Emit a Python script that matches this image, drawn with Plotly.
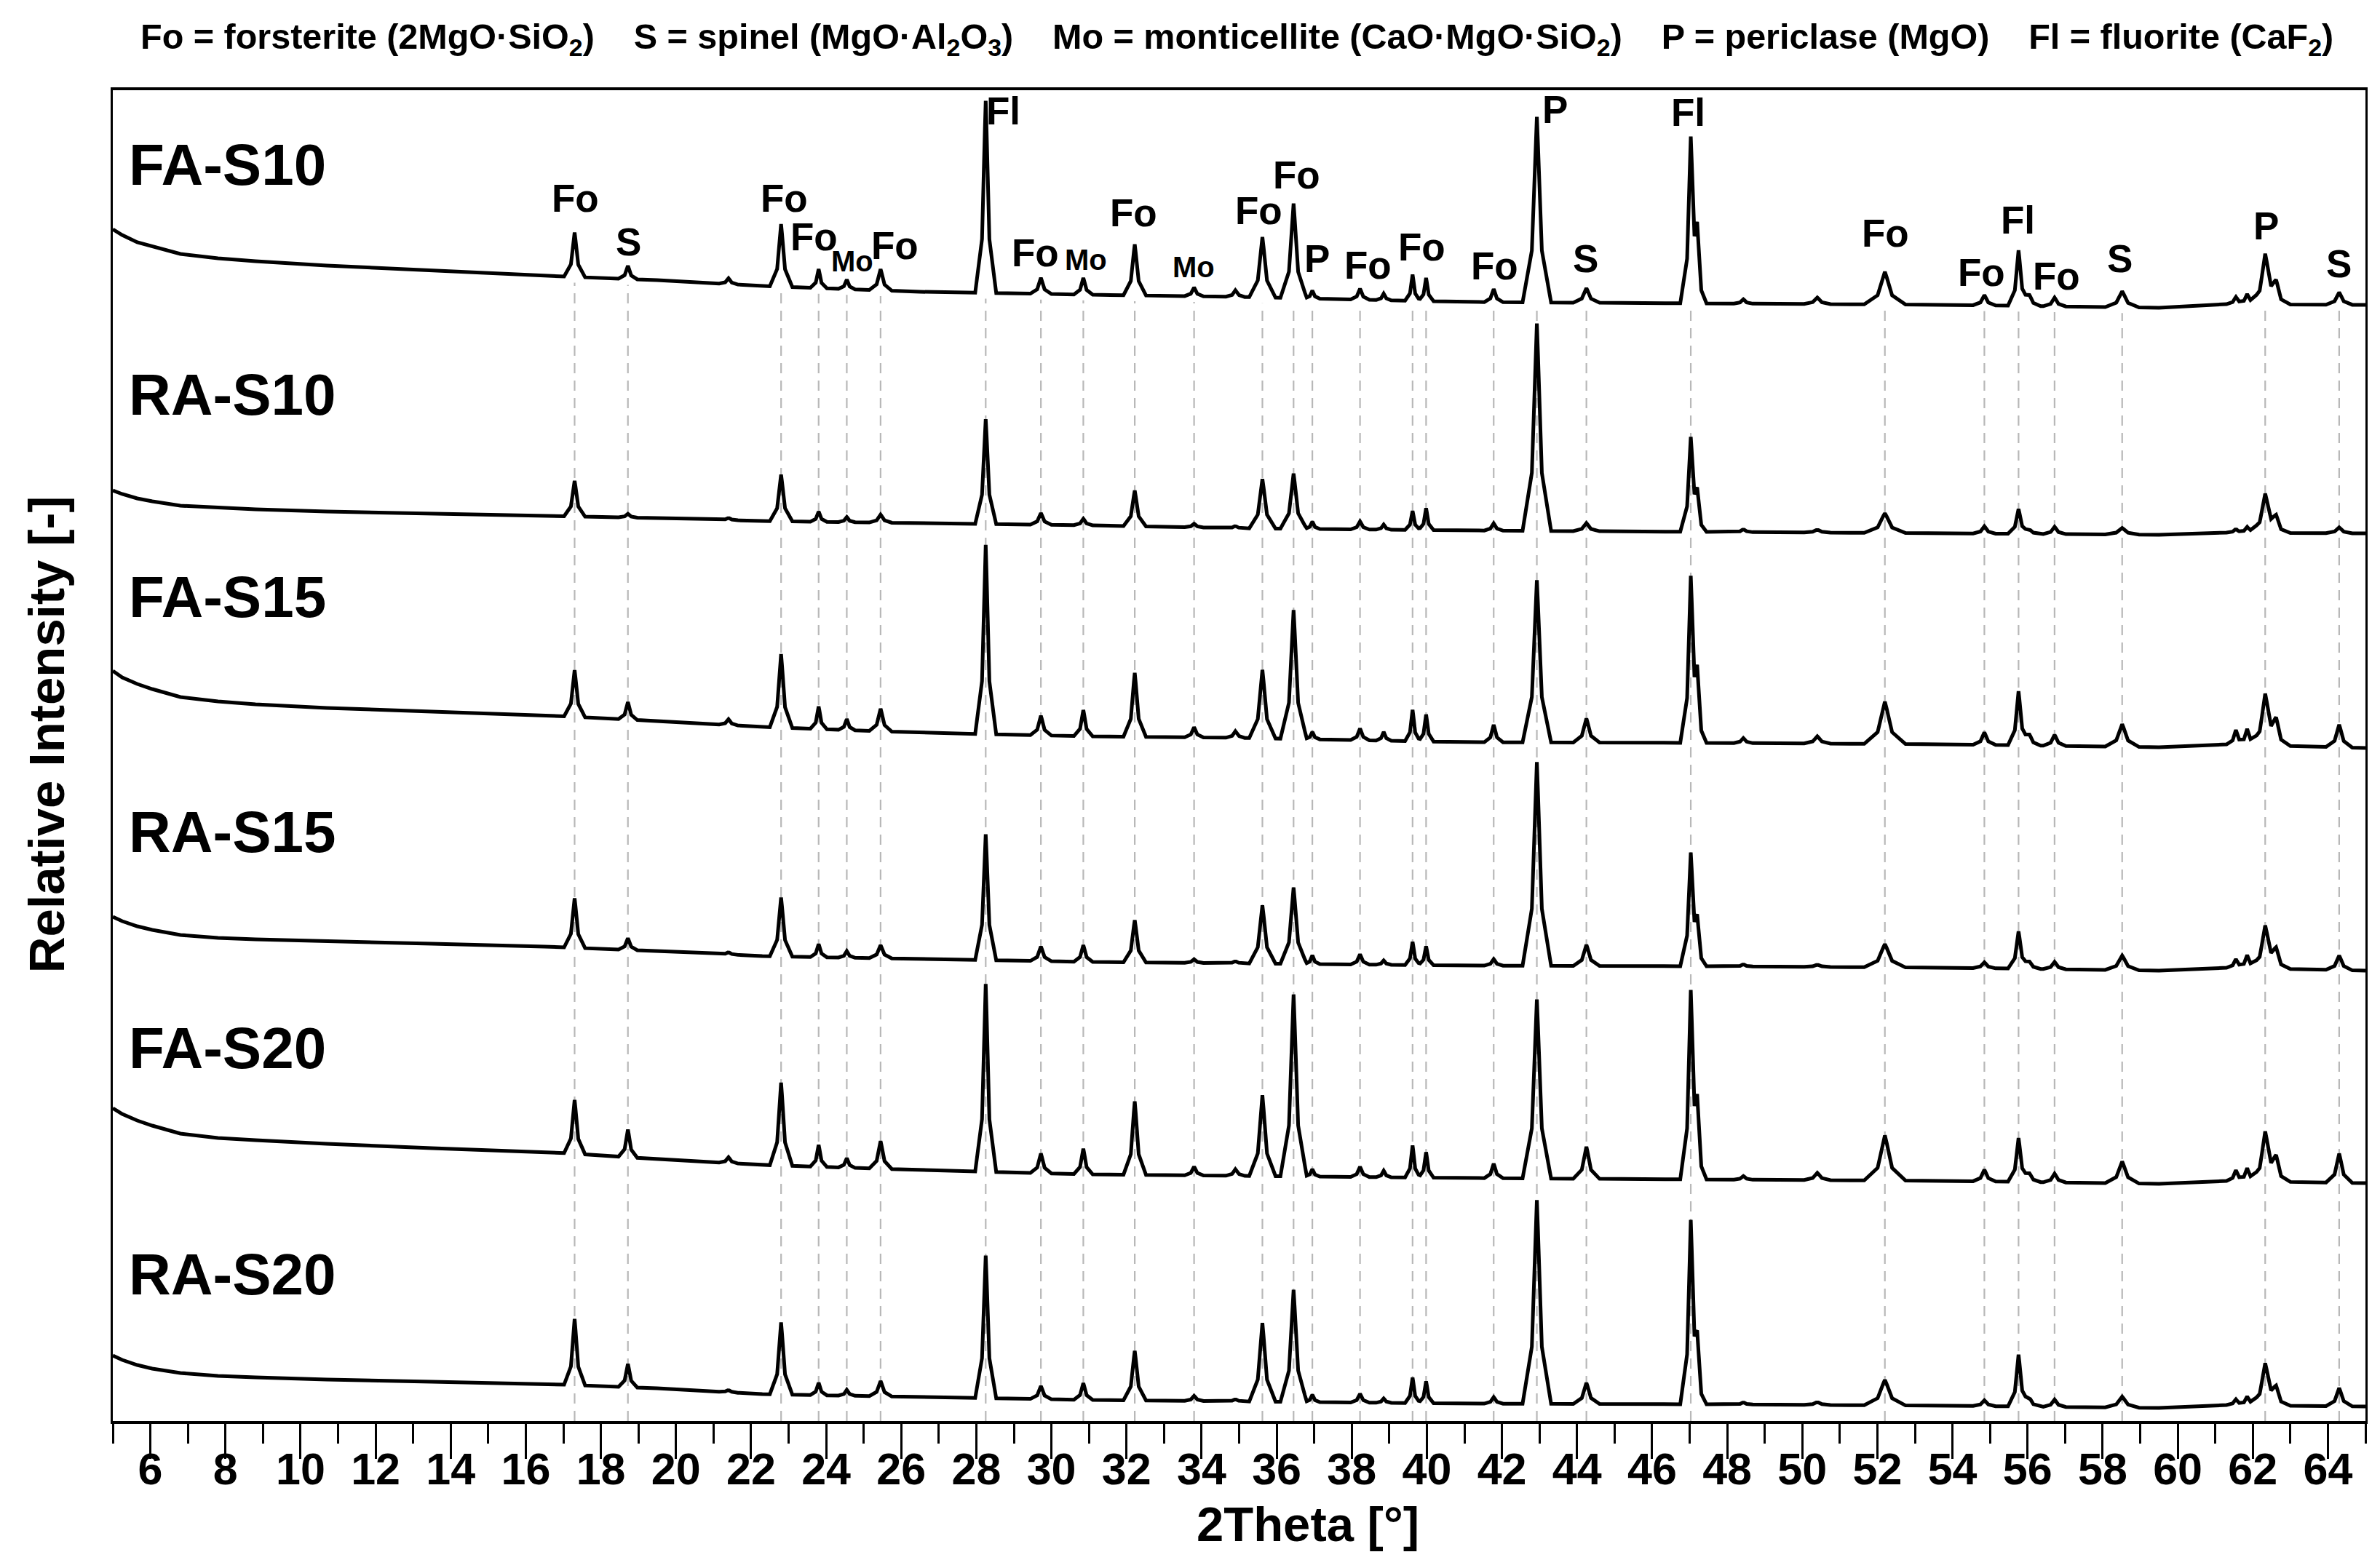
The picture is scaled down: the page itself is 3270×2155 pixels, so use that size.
import numpy as np
import plotly.graph_objects as go

# ---------------- data ----------------
samples = ["FA-S10", "RA-S10", "FA-S15", "RA-S15", "FA-S20", "RA-S20"]

# background anchor points (2theta) and background intensity per sample
bg_x = [5.0, 5.25, 5.65, 6.05, 6.8, 7.8, 8.8, 10.7, 13.5, 16.5, 19.5, 22.3,
        26.5, 31.0, 35.0, 41.0, 47.5, 54.0, 59.5, 61.3, 65.0]
bg_fa_s10 = [104, 96, 86, 80, 70, 64, 60, 54, 47, 40, 34, 26, 18, 14, 11, 4, 2, 0, -4, 1, 0]
bg_ra_s10 = [59, 54, 48, 44, 38, 35, 33, 30, 27, 24, 21, 17, 14, 11, 7, 4, 2, 0, -2, 1, 0]
bg_fa_s15 = [106, 97, 88, 81, 70, 64, 60, 55, 50, 45, 37, 29, 21, 16, 14, 8, 7, 5, 1, 5, 0]
bg_ra_s15 = [74, 68, 61, 56, 49, 45, 43, 41, 37, 33, 27, 20, 16, 12, 10, 7, 6, 4, 0, 4, 0]
bg_fa_s20 = [103, 95, 86, 79, 68, 62, 59, 54, 48, 43, 33, 25, 18, 12, 10, 7, 5, 3, -1, 3, 0]
bg_ra_s20 = [70, 64, 57, 52, 46, 42, 40, 37, 34, 31, 25, 17, 13, 9, 7, 4, 3, 1, -2, 2, 0]

# reflections: position (2theta), half base width (deg)
peak_pos = [17.30, 18.72, 21.40, 22.80, 23.80, 24.55, 25.45, 28.25, 29.72, 30.85,
            32.22, 33.80, 34.90, 35.62, 36.45, 36.95, 38.22, 38.85, 39.62, 39.98,
            41.78, 42.93, 44.25, 47.03, 47.20, 48.43, 50.40, 52.20, 54.85, 55.76,
            56.05, 56.72, 58.52, 61.55, 61.85, 62.33, 62.62, 64.30]
peak_hw = [0.28, 0.25, 0.25, 0.30, 0.22, 0.22, 0.30, 0.28, 0.28, 0.25,
           0.30, 0.25, 0.25, 0.35, 0.35, 0.20, 0.25, 0.20, 0.20, 0.20,
           0.25, 0.38, 0.35, 0.28, 0.25, 0.25, 0.35, 0.55, 0.30, 0.28,
           0.30, 0.30, 0.45, 0.25, 0.25, 0.42, 0.38, 0.35]
# peak heights above background per sample
h_fa_s10 = [61, 18, 8, 86, 26, 13, 29, 264, 22, 23, 70, 12, 9, 83, 130, 11, 15, 9, 36, 32,
            18, 255, 20, 219, 75, 6, 9, 45, 14, 76, 15, 12, 22, 10, 14, 67, 25, 17]
h_ra_s10 = [49, 5, 3, 64, 14, 7, 11, 144, 16, 9, 49, 5, 3, 68, 76, 10, 11, 7, 26, 30,
            10, 285, 11, 125, 40, 4, 4, 27, 10, 34, 6, 10, 9, 5, 8, 52, 18, 8]
h_fa_s15 = [64, 24, 8, 101, 31, 15, 31, 260, 27, 36, 88, 14, 9, 94, 177, 10, 16, 12, 43, 37,
            24, 223, 33, 220, 70, 7, 10, 58, 17, 74, 15, 15, 31, 20, 22, 68, 30, 31]
h_ra_s15 = [68, 16, 3, 81, 18, 9, 18, 173, 20, 23, 58, 5, 3, 80, 105, 12, 14, 6, 32, 26,
            9, 280, 29, 150, 46, 3, 3, 32, 8, 51, 10, 10, 20, 12, 18, 57, 22, 20]
h_fa_s20 = [74, 38, 8, 114, 30, 13, 38, 258, 27, 35, 101, 12, 9, 111, 250, 10, 14, 9, 44, 35,
            20, 246, 44, 250, 75, 5, 10, 62, 16, 60, 12, 12, 30, 15, 18, 66, 28, 40]
h_ra_s20 = [91, 32, 3, 99, 17, 8, 21, 196, 18, 23, 68, 7, 3, 108, 154, 10, 12, 6, 35, 30,
            9, 280, 29, 245, 60, 3, 4, 35, 8, 71, 12, 10, 15, 8, 12, 56, 20, 25]

backgrounds = [bg_fa_s10, bg_ra_s10, bg_fa_s15, bg_ra_s15, bg_fa_s20, bg_ra_s20]
heights = [h_fa_s10, h_ra_s10, h_fa_s15, h_ra_s15, h_fa_s20, h_ra_s20]

# reference (phase) lines and labels
ref_lines = [17.30, 18.72, 22.80, 23.80, 24.55, 25.45, 28.25, 29.72, 30.85, 32.22, 33.80,
             35.62, 36.45, 36.95, 38.22, 39.62, 39.98, 41.78, 42.93, 44.25, 47.03, 52.20,
             54.85, 55.76, 56.72, 58.52, 62.33, 64.30]
phase_text = ["Fo", "S", "Fo", "Fo", "Mo", "Fo", "Fl", "Fo", "Mo", "Fo", "Mo", "Fo", "Fo", "P",
              "Fo", "Fo", "Fo", "P", "S", "Fl", "Fo", "Fo", "Fl", "Fo", "S", "P", "S"]

# ---------------- layout constants ----------------
W, H = 3270, 2155
ML, MR, MT, MB = 147, 28, 116, 210
PLOT_H = H - MT - MB
offsets = [1534, 1220, 925, 619, 327, 20]
sample_label_y = [1727, 1411, 1133, 810, 513, 202]
phase_label_x = [17.32, 18.73, 22.88, 23.68, 24.70, 25.83, 28.71, 29.58, 30.91, 32.18, 33.78,
                 35.52, 36.53, 37.08, 38.43, 39.86, 41.80, 43.41, 44.22, 46.97, 52.21, 54.78,
                 55.75, 56.77, 58.46, 62.36, 64.30]
phase_label_y = [270, 330, 270, 323, 357, 335, 150, 345, 355, 290, 365, 287, 238, 353, 362,
                 337, 363, 148, 353, 152, 318, 372, 300, 377, 353, 308, 360]
LABEL_LIFT = 6
FONT = "Liberation Sans, Arial, Helvetica, sans-serif"


def pattern(bg, hts):
    xs = set(bg_x)
    shapes = []
    for p, w, h in zip(peak_pos, peak_hw, hts):
        px = [p - w, p - 0.35 * w, p - 0.08 * w, p, p + 0.08 * w, p + 0.35 * w, p + w]
        py = [0.0, 0.28 * h, 0.85 * h, h, 0.85 * h, 0.28 * h, 0.0]
        shapes.append((px, py))
        xs.update(px)
    xs = np.array(sorted(x for x in xs if 5.0 <= x <= 65.0))
    ys = np.interp(xs, bg_x, bg).astype(float)
    for px, py in shapes:
        ys += np.interp(xs, px, py, left=0.0, right=0.0)
    return xs, ys


fig = go.Figure()

# dashed reference lines (from bottom axis up to just below the top pattern)
lx, ly = [], []
top_bg = np.interp(ref_lines, bg_x, bg_fa_s10)
for x, b in zip(ref_lines, top_bg):
    lx += [x, x, None]
    ly += [0, offsets[0] + b - 8, None]
fig.add_trace(go.Scatter(x=lx, y=ly, mode="lines",
                         line=dict(color="#b8b8b8", width=2.2, dash="14px,10px"),
                         hoverinfo="skip", showlegend=False))

for name, bg, hts, off in zip(samples, backgrounds, heights, offsets):
    xs, ys = pattern(bg, hts)
    fig.add_trace(go.Scatter(x=xs, y=ys + off, mode="lines", name=name,
                             line=dict(color="black", width=5),
                             showlegend=False))

ann = []
for name, yv in zip(samples, sample_label_y):
    ann.append(dict(x=5.38, y=yv, xref="x", yref="y", text=name, showarrow=False,
                    xanchor="left", yanchor="middle",
                    font=dict(family=FONT, size=80, color="black", weight="bold")))

for t, x, yf in zip(phase_text, phase_label_x, phase_label_y):
    size = 40 if t == "Mo" else 53
    ann.append(dict(x=x, y=(H - MB) - yf + LABEL_LIFT, xref="x", yref="y", text=t,
                    showarrow=False, xanchor="center", yanchor="middle",
                    font=dict(family=FONT, size=size, color="black", weight="bold")))

legend_text = ("Fo = forsterite (2MgO·SiO<sub>2</sub>)\u00a0\u00a0\u00a0\u00a0"
               "S = spinel (MgO·Al<sub>2</sub>O<sub>3</sub>)\u00a0\u00a0\u00a0\u00a0"
               "Mo = monticellite (CaO·MgO·SiO<sub>2</sub>)\u00a0\u00a0\u00a0\u00a0"
               "P = periclase (MgO)\u00a0\u00a0\u00a0\u00a0"
               "Fl = fluorite (CaF<sub>2</sub>)")
ann.append(dict(x=0.499, y=1 + 71 / PLOT_H, xref="paper", yref="paper", text=legend_text,
                showarrow=False, xanchor="center", yanchor="middle",
                font=dict(family=FONT, size=48.5, color="black", weight="bold")))

ann.append(dict(x=36.84, y=-(2086 - (H - MB)) / PLOT_H, xref="x", yref="paper",
                text="2Theta [°]", showarrow=False, xanchor="center", yanchor="middle",
                font=dict(family=FONT, size=67, color="black", weight="bold")))
ann.append(dict(x=-(ML - 56) / (W - ML - MR), y=0.516, xref="paper", yref="paper",
                text="Relative Intensity [-]", showarrow=False, textangle=-90,
                xanchor="center", yanchor="middle",
                font=dict(family=FONT, size=69, color="black", weight="bold")))

fig.update_layout(
    width=W, height=H,
    margin=dict(l=ML, r=MR, t=MT, b=MB, pad=0),
    paper_bgcolor="white", plot_bgcolor="white",
    annotations=ann,
    font=dict(family=FONT, color="black"),
    xaxis=dict(range=[5, 65], tick0=0, dtick=2, ticks="outside", ticklen=48, tickwidth=3,
               tickcolor="black", showline=True, linewidth=4, linecolor="black", mirror=True,
               showgrid=False, zeroline=False, ticklabelstandoff=-38,
               tickfont=dict(family=FONT, size=61, color="black", weight="bold"),
               minor=dict(tick0=1, dtick=2, ticks="outside", ticklen=27, tickwidth=3,
                          tickcolor="black", showgrid=False)),
    yaxis=dict(range=[0, PLOT_H], showticklabels=False, ticks="", showgrid=False,
               zeroline=False, showline=True, linewidth=2.5, linecolor="black", mirror=True),
)

fig.write_html("out.html")
